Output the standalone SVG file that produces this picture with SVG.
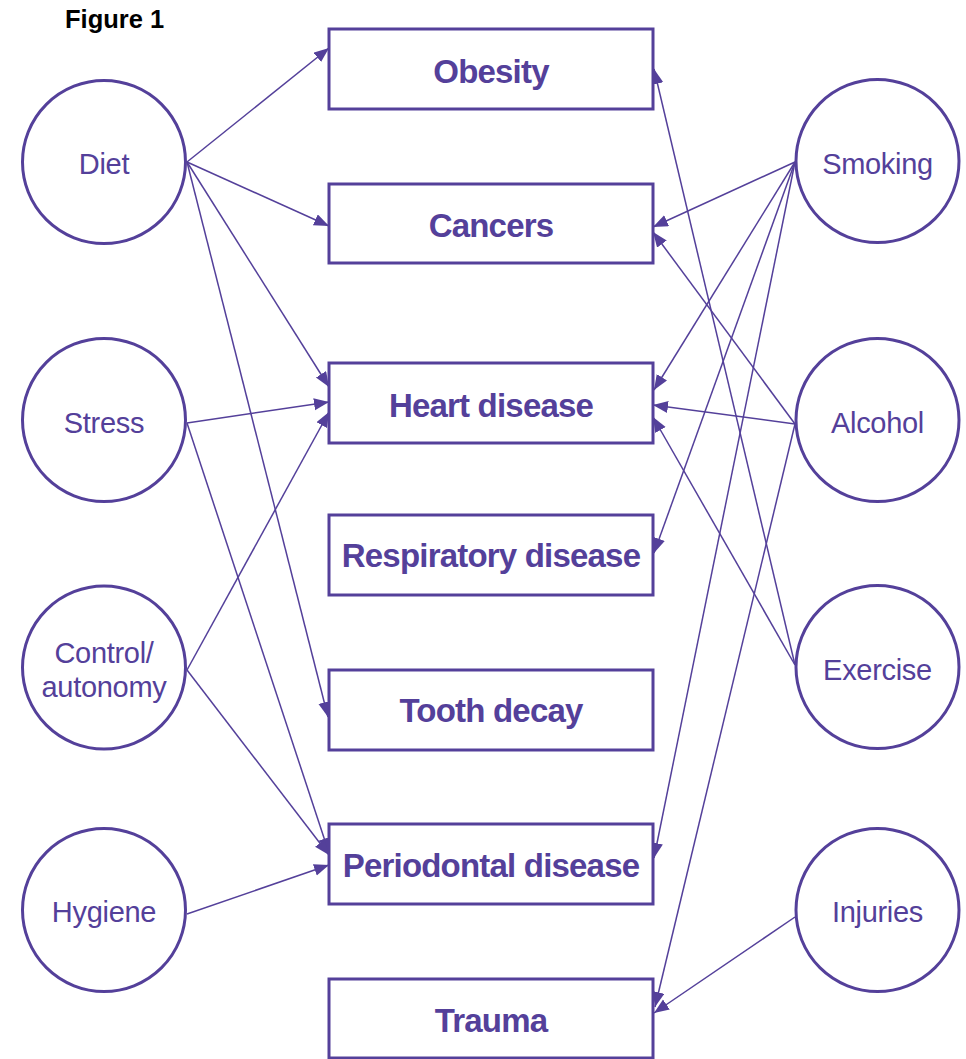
<svg xmlns="http://www.w3.org/2000/svg" width="966" height="1059" viewBox="0 0 966 1059">
<style>
.c{fill:#fff;stroke:#54409a;stroke-width:3}
.b{fill:#fff;stroke:#54409a;stroke-width:3}
.ct{font-family:"Liberation Sans",Arial,sans-serif;font-size:29px;fill:#54409a;text-anchor:middle;letter-spacing:-0.3px}
.bt{font-family:"Liberation Sans",Arial,sans-serif;font-size:33px;font-weight:bold;fill:#54409a;text-anchor:middle;letter-spacing:-0.8px}
.e{stroke:#54409a;stroke-width:1.5;fill:none;marker-end:url(#ah)}
</style>
<defs>
<marker id="ah" markerUnits="userSpaceOnUse" markerWidth="16" markerHeight="13" refX="15" refY="6" orient="auto">
<path d="M0,0 L15,6 L0,12 z" fill="#54409a"/>
</marker>
</defs>
<rect width="966" height="1059" fill="#fff"/>
<text x="65" y="28" font-family="Liberation Sans,Arial,sans-serif" font-size="25.5" font-weight="bold" fill="#000">Figure 1</text>
<g id="connectors">
<line class="e" x1="187" y1="162" x2="329" y2="48"/>
<line class="e" x1="187" y1="162" x2="329" y2="226"/>
<line class="e" x1="187" y1="162" x2="329" y2="387"/>
<line class="e" x1="187" y1="162" x2="328" y2="717"/>
<line class="e" x1="187" y1="423" x2="329" y2="402"/>
<line class="e" x1="187" y1="423" x2="329" y2="853"/>
<line class="e" x1="187" y1="670" x2="329" y2="412"/>
<line class="e" x1="187" y1="670" x2="329" y2="855"/>
<line class="e" x1="187" y1="914" x2="329" y2="865"/>
<line class="e" x1="795" y1="162" x2="653" y2="227"/>
<line class="e" x1="795" y1="162" x2="654" y2="390"/>
<line class="e" x1="795" y1="162" x2="654" y2="553"/>
<line class="e" x1="795" y1="162" x2="654" y2="858"/>
<line class="e" x1="795" y1="424" x2="653" y2="232"/>
<line class="e" x1="795" y1="424" x2="653" y2="405"/>
<line class="e" x1="795" y1="424" x2="655" y2="1007"/>
<line class="e" x1="795" y1="665" x2="654" y2="69"/>
<line class="e" x1="795" y1="665" x2="653" y2="417"/>
<line class="e" x1="795" y1="917" x2="654" y2="1013"/>
</g>
<g id="diet"><circle class="c" cx="104" cy="162" r="81.5"/><text class="ct" x="104" y="174">Diet</text></g>
<g id="stress"><circle class="c" cx="104" cy="420" r="81.5"/><text class="ct" x="104" y="433">Stress</text></g>
<g id="control"><circle class="c" cx="104" cy="667.5" r="81.5"/><text class="ct" x="104" y="663">Control/</text><text class="ct" x="104" y="697">autonomy</text></g>
<g id="hygiene"><circle class="c" cx="104" cy="910" r="81.5"/><text class="ct" x="104" y="922">Hygiene</text></g>
<g id="smoking"><circle class="c" cx="877.5" cy="161" r="81.5"/><text class="ct" x="877.5" y="174">Smoking</text></g>
<g id="alcohol"><circle class="c" cx="877.5" cy="420" r="81.5"/><text class="ct" x="877.5" y="433">Alcohol</text></g>
<g id="exercise"><circle class="c" cx="877.5" cy="667" r="81.5"/><text class="ct" x="877.5" y="680">Exercise</text></g>
<g id="injuries"><circle class="c" cx="877.5" cy="910" r="81.5"/><text class="ct" x="877.5" y="922">Injuries</text></g>
<g id="obesity"><rect class="b" x="329" y="29" width="324" height="80"/><text class="bt" x="491" y="83">Obesity</text></g>
<g id="cancers"><rect class="b" x="329" y="184" width="324" height="79"/><text class="bt" x="491" y="237">Cancers</text></g>
<g id="heart"><rect class="b" x="329" y="363" width="324" height="80"/><text class="bt" x="491" y="417">Heart disease</text></g>
<g id="respiratory"><rect class="b" x="329" y="515" width="324" height="80"/><text class="bt" x="491" y="567">Respiratory disease</text></g>
<g id="tooth"><rect class="b" x="329" y="670" width="324" height="80"/><text class="bt" x="491" y="722">Tooth decay</text></g>
<g id="periodontal"><rect class="b" x="329" y="824" width="324" height="80"/><text class="bt" x="491" y="877">Periodontal disease</text></g>
<g id="trauma"><rect class="b" x="329" y="979" width="324" height="79"/><text class="bt" x="491" y="1032">Trauma</text></g>
</svg>
